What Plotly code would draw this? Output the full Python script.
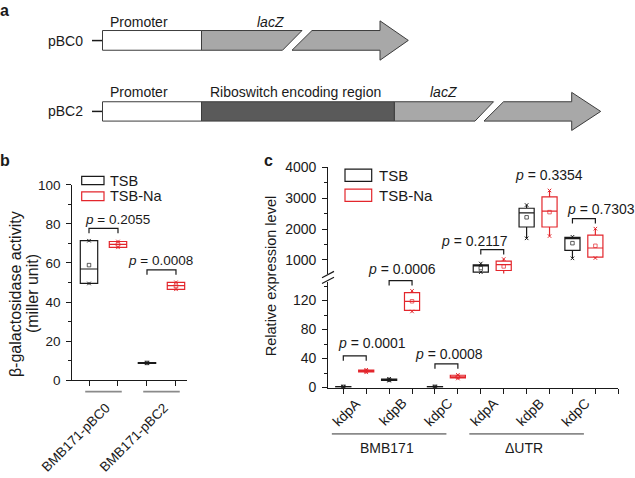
import plotly.graph_objects as go

W, H = 635, 478

# ---------------- Panel b data (beta-galactosidase activity, miller unit) ----------------
b_categories = ["BMB171-pBC0", "BMB171-pBC2"]
b_conditions = ["TSB", "TSB-Na"]
b_tsb_q1 = [49.5, 8.6]
b_tsb_median = [56.9, 8.8]
b_tsb_q3 = [71.4, 9.0]
b_tsb_low = [49.5, 8.6]
b_tsb_high = [71.4, 9.0]
b_tsb_mean = [58.9, 8.8]
b_na_q1 = [68.0, 46.5]
b_na_median = [69.5, 48.4]
b_na_q3 = [71.0, 50.1]
b_na_low = [68.0, 46.5]
b_na_high = [71.0, 50.1]
b_na_mean = [69.5, 48.3]
b_pvalues = ["0.2055", "0.0008"]
b_ticks = [0, 20, 40, 60, 80, 100]
b_minor_ticks = [10, 30, 50, 70, 90]

# ---------------- Panel c data (relative expression level) ----------------
c_genes = ["kdpA", "kdpB", "kdpC"]
c_strains = ["BMB171", "\u0394UTR"]
# BMB171 (lower axis segment)
c_wt_tsb_q1 = [0.6, 9.8, 0.6]
c_wt_tsb_median = [1.0, 10.7, 1.0]
c_wt_tsb_q3 = [1.4, 11.5, 1.4]
c_wt_tsb_low = [0.5, 9.5, 0.5]
c_wt_tsb_high = [1.5, 12.0, 1.6]
c_wt_tsb_mean = [1.0, 10.7, 1.0]
c_wt_na_q1 = [21.5, 106.6, 13.4]
c_wt_na_median = [22.8, 119.0, 14.8]
c_wt_na_q3 = [24.0, 131.0, 17.0]
c_wt_na_low = [21.0, 105.0, 12.5]
c_wt_na_high = [24.5, 133.4, 17.5]
c_wt_na_mean = [22.8, 119.0, 14.8]
# dUTR (upper axis segment)
c_utr_tsb_q1 = [606, 2066, 1313]
c_utr_tsb_median = [812, 2526, 1690]
c_utr_tsb_q3 = [844, 2672, 1731]
c_utr_tsb_low = [606, 1700, 1053]
c_utr_tsb_high = [887, 2777, 1750]
c_utr_tsb_mean = [740, 2379, 1544]
c_utr_tsb_outlier = [450, None, None]
c_utr_na_q1 = [660, 2066, 1094]
c_utr_na_median = [850, 2578, 1388]
c_utr_na_q3 = [965, 3038, 1803]
c_utr_na_low = [545, 1773, 1063]
c_utr_na_high = [1030, 3247, 2013]
c_utr_na_mean = [792, 2547, 1459]
c_pvalues = ["0.0001", "0.0006", "0.0008", "0.2117", "0.3354", "0.7303"]
c_low_ticks = [0, 40, 80, 120]
c_low_minor = [20, 60, 100, 140]
c_up_ticks = [1000, 2000, 3000, 4000]
c_up_minor = [1500, 2500, 3500]

# ---------------- styling ----------------
FONT = "Liberation Sans, Arial, Helvetica, sans-serif"
BLACK = "#1a1a1a"
RED = "#e3262c"
GREY = "#8a8a8a"


def px(x):
    return x / W


def py(y):
    return 1 - y / H


fig = go.Figure()


def add_box(x, q1, med, q3, lo, hi, mean, color, xa, ya, width, outlier=None):
    fig.add_trace(go.Box(
        x=x, q1=q1, median=med, q3=q3, lowerfence=lo, upperfence=hi,
        orientation="v", width=width, whiskerwidth=0,
        line=dict(color=color, width=1.2), fillcolor="rgba(0,0,0,0)",
        xaxis=xa, yaxis=ya, showlegend=False, hoverinfo="skip"))
    fig.add_trace(go.Scatter(
        x=x, y=mean, mode="markers", xaxis=xa, yaxis=ya, cliponaxis=False,
        marker=dict(symbol="square-open", size=3.5, color=color, line=dict(width=0.7, color=color)),
        showlegend=False, hoverinfo="skip"))
    ex_x, ex_y = [], []
    for i, xv in enumerate(x):
        ex_x += [xv, xv]
        ex_y += [lo[i], hi[i]]
        if outlier is not None and outlier[i] is not None:
            ex_x.append(xv)
            ex_y.append(outlier[i])
    fig.add_trace(go.Scatter(
        x=ex_x, y=ex_y, mode="markers", xaxis=xa, yaxis=ya, cliponaxis=False,
        marker=dict(symbol="x-thin-open", size=3.5, color=color, line=dict(width=1, color=color)),
        showlegend=False, hoverinfo="skip"))


# panel b positions
b_x_tsb = [2 * i + 1 for i in range(len(b_categories))]
b_x_na = [2 * i + 2 for i in range(len(b_categories))]
add_box(b_x_tsb, b_tsb_q1, b_tsb_median, b_tsb_q3, b_tsb_low, b_tsb_high, b_tsb_mean, BLACK, "x", "y", 0.6)
add_box(b_x_na, b_na_q1, b_na_median, b_na_q3, b_na_low, b_na_high, b_na_mean, RED, "x", "y", 0.6)

# panel c positions
ng = len(c_genes)
c_x_wt_tsb = [2 * g + 1 for g in range(ng)]
c_x_wt_na = [2 * g + 2 for g in range(ng)]
c_x_utr_tsb = [2 * ng + 2 * g + 1 for g in range(ng)]
c_x_utr_na = [2 * ng + 2 * g + 2 for g in range(ng)]
add_box(c_x_wt_tsb, c_wt_tsb_q1, c_wt_tsb_median, c_wt_tsb_q3, c_wt_tsb_low, c_wt_tsb_high, c_wt_tsb_mean, BLACK, "x2", "y2", 0.66)
add_box(c_x_wt_na, c_wt_na_q1, c_wt_na_median, c_wt_na_q3, c_wt_na_low, c_wt_na_high, c_wt_na_mean, RED, "x2", "y2", 0.66)
add_box(c_x_utr_tsb, c_utr_tsb_q1, c_utr_tsb_median, c_utr_tsb_q3, c_utr_tsb_low, c_utr_tsb_high, c_utr_tsb_mean, BLACK, "x2", "y3", 0.66, c_utr_tsb_outlier)
add_box(c_x_utr_na, c_utr_na_q1, c_utr_na_median, c_utr_na_q3, c_utr_na_low, c_utr_na_high, c_utr_na_mean, RED, "x2", "y3", 0.66)

axis_common = dict(showline=True, linecolor=BLACK, linewidth=1.2, ticks="outside", ticklen=5,
                   tickwidth=1.2, tickcolor=BLACK, showgrid=False, zeroline=False,
                   tickfont=dict(family=FONT, size=13.5, color=BLACK))

minor_common = dict(ticks="outside", ticklen=3, tickwidth=1, tickcolor=BLACK, showgrid=False)

n_c = 4 * ng
fig.update_layout(
    width=W, height=H, margin=dict(l=0, r=0, t=0, b=0),
    paper_bgcolor="white", plot_bgcolor="white", boxmode="overlay", showlegend=False,
    xaxis=dict(domain=[px(72.3), px(187)], anchor="y", range=[0.424, 4.38],
               tickvals=sorted(b_x_tsb + b_x_na), showticklabels=False, **axis_common),
    yaxis=dict(domain=[py(385), py(183)], anchor="x", range=[0, 100], tickvals=b_ticks,
               minor=dict(tickvals=b_minor_ticks, **minor_common), ticklabelstandoff=3, **axis_common),
    xaxis2=dict(domain=[px(328.3), px(618.3)], anchor="y2", range=[0.3455, n_c + 1.001],
                tickvals=list(range(1, n_c + 2)), showticklabels=False, **axis_common),
    yaxis2=dict(domain=[py(392.7), py(283.2)], anchor="x2", range=[0, 146], tickvals=c_low_ticks,
                minor=dict(tickvals=c_low_minor, **minor_common), ticklabelstandoff=3, **axis_common),
    yaxis3=dict(domain=[py(274.8), py(164.7)], anchor="x2", range=[560, 4000], tickvals=c_up_ticks,
                minor=dict(tickvals=c_up_minor, **minor_common), ticklabelstandoff=3, **axis_common),
)
fig.update_yaxes(tickfont=dict(size=14), selector=dict(anchor="x2"))

shapes = []
annotations = []


def text(x, y, s, size=14, xref="paper", anchor="center", angle=0, color=BLACK, bold=False, italic=False):
    if bold:
        s = "<b>" + s + "</b>"
    if italic:
        s = "<i>" + s + "</i>"
    annotations.append(dict(
        x=px(x) if xref == "paper" else x, y=py(y), xref=xref, yref="paper", text=s,
        showarrow=False, xanchor=anchor, yanchor="middle", textangle=angle,
        font=dict(family=FONT, size=size, color=color)))


def path(points, xref="paper", fill=None, line=BLACK, lw=1.0):
    pts = []
    for (x, y) in points:
        xx = px(x) if xref == "paper" else x
        pts.append(f"{xx},{py(y)}")
    d = "M" + " L".join(pts) + (" Z" if fill else "")
    shapes.append(dict(type="path", path=d, xref=xref, yref="paper",
                       fillcolor=fill if fill else "rgba(0,0,0,0)",
                       line=dict(color=line, width=lw), layer="above"))


# ---------------- Panel a: construct diagram ----------------
LIGHT = "#a8a8a8"
DARK = "#5a5a5a"
OUT = "#3c3c3c"
text(4, 3, "a", size=16, bold=True)
# pBC0
text(65, 33.7, "pBC0", size=14)
path([(92, 33.7), (102.5, 33.7)], lw=1.5)
path([(102.5, 23.3), (201.5, 23.3), (201.5, 43.7), (102.5, 43.7)], fill="white", line=OUT)
path([(201.5, 23.3), (302, 23.3), (282.5, 43.7), (201.5, 43.7)], fill=LIGHT, line=OUT)
path([(312, 23.3), (380, 23.3), (380, 13.3), (408.3, 33.5), (380, 54), (380, 43.7), (292, 43.7)], fill=LIGHT, line=OUT)
text(139, 15, "Promoter", size=14)
text(270.5, 15, "lacZ", size=14, italic=True)
# pBC2
text(65, 107, "pBC2", size=14)
path([(92, 107), (102.5, 107)], lw=1.5)
path([(102.5, 97), (201.5, 97), (201.5, 117), (102.5, 117)], fill="white", line=OUT)
path([(201.5, 97), (394.4, 97), (394.4, 117), (201.5, 117)], fill=DARK, line=OUT)
path([(394.4, 97), (493.5, 97), (475, 117), (394.4, 117)], fill=LIGHT, line=OUT)
path([(503.5, 97), (571.7, 97), (571.7, 87.3), (600.7, 107), (571.7, 126.7), (571.7, 117), (484, 117)], fill=LIGHT, line=OUT)
text(139, 87, "Promoter", size=14)
text(295, 87, "Riboswitch encoding region", size=14)
text(443.5, 87, "lacZ", size=14, italic=True)

# ---------------- Panel b decorations ----------------
text(5, 157.5, "b", size=16, bold=True)
text(15, 296, "\u03b2-galactosidase activity", size=16, angle=-90)
text(32, 296, "(miller unit)", size=16, angle=-90)
# legend
shapes.append(dict(type="rect", xref="paper", yref="paper", x0=px(81.7), x1=px(104), y0=py(182.7), y1=py(174.3),
                   line=dict(color=BLACK, width=1.2)))
shapes.append(dict(type="rect", xref="paper", yref="paper", x0=px(81.7), x1=px(104), y0=py(199.3), y1=py(190.3),
                   line=dict(color=RED, width=1.2)))
text(108, 178.5, b_conditions[0], size=14.5, anchor="left")
text(108, 194.8, b_conditions[1], size=14.5, anchor="left")
# p-values and brackets
b_p_pos = [(1.98, 219), (3.47, 261.7)]
b_br_pos = [(228, 233), (271, 276)]
for i, pv in enumerate(b_pvalues):
    x0, x1 = b_x_tsb[i], b_x_na[i]
    ytop, ybot = b_br_pos[i]
    path([(x0, ybot), (x0, ytop), (x1, ytop), (x1, ybot)], xref="x", lw=1.2)
    xv, yv = b_p_pos[i]
    text(xv, yv, "<i>p</i> = " + pv, size=13.5, xref="x")
# category labels and group lines
for i, cat in enumerate(b_categories):
    cx = (b_x_tsb[i] + b_x_na[i]) / 2
    path([(cx - 0.63, 397), (cx + 0.63, 397)], xref="x", line=GREY, lw=1.8)
    text(b_x_tsb[i] - 0.45, 444.5, cat, size=13.5, xref="x", angle=-45)

# ---------------- Panel c decorations ----------------
text(268, 157.5, "c", size=16, bold=True)
text(271, 277.5, "Relative expression level", size=14.5, angle=-90)
shapes.append(dict(type="rect", xref="paper", yref="paper", x0=px(345), x1=px(371.7), y0=py(179.3), y1=py(166.7),
                   line=dict(color=BLACK, width=1.2)))
shapes.append(dict(type="rect", xref="paper", yref="paper", x0=px(345), x1=px(371.7), y0=py(200), y1=py(187.3),
                   line=dict(color=RED, width=1.2)))
text(376.7, 173, b_conditions[0], size=15, anchor="left")
text(376.7, 193.7, b_conditions[1], size=15, anchor="left")
# axis break marks
path([(322, 279), (334, 272.5)], lw=1.2)
path([(322, 285), (334, 278.5)], lw=1.2)
# p-values
c_pairs = list(zip(c_x_wt_tsb + c_x_utr_tsb, c_x_wt_na + c_x_utr_na))
c_p_pos = [(2.24, 346.7), (3.58, 270), (5.61, 357.7), (6.71, 240.7), (9.97, 173.3), (12.24, 208)]
c_br_pos = [(360, 365), (282, 287), (368.3, 373.3), (250, 255), None, (218, 223)]
for i, pv in enumerate(c_pvalues):
    x0, x1 = c_pairs[i]
    if c_br_pos[i] is not None:
        ytop, ybot = c_br_pos[i]
        path([(x0, ybot), (x0, ytop), (x1, ytop), (x1, ybot)], xref="x2", lw=1.2)
    xv, yv = c_p_pos[i]
    text(xv, yv, "<i>p</i> = " + pv, size=14, xref="x2")
# gene labels, group lines, strain labels
for s, strain in enumerate(c_strains):
    for g, gene in enumerate(c_genes):
        text(2 * ng * s + 2 * g + 1.15, 418, gene, size=14, xref="x2", angle=-45)
    gx0 = 2 * ng * s + 0.5
    gx1 = 2 * ng * s + 2 * ng - 0.5
    path([(gx0, 440.7), (gx1, 440.7)], xref="x2", line=GREY, lw=1.8)
    text(2 * ng * s + 2.9, 455, strain, size=14, xref="x2")

fig.update_layout(shapes=shapes, annotations=annotations)
fig.write_html("out.html", config={"displayModeBar": False},
               post_script="document.body.style.margin='0';document.body.style.padding='0';")
